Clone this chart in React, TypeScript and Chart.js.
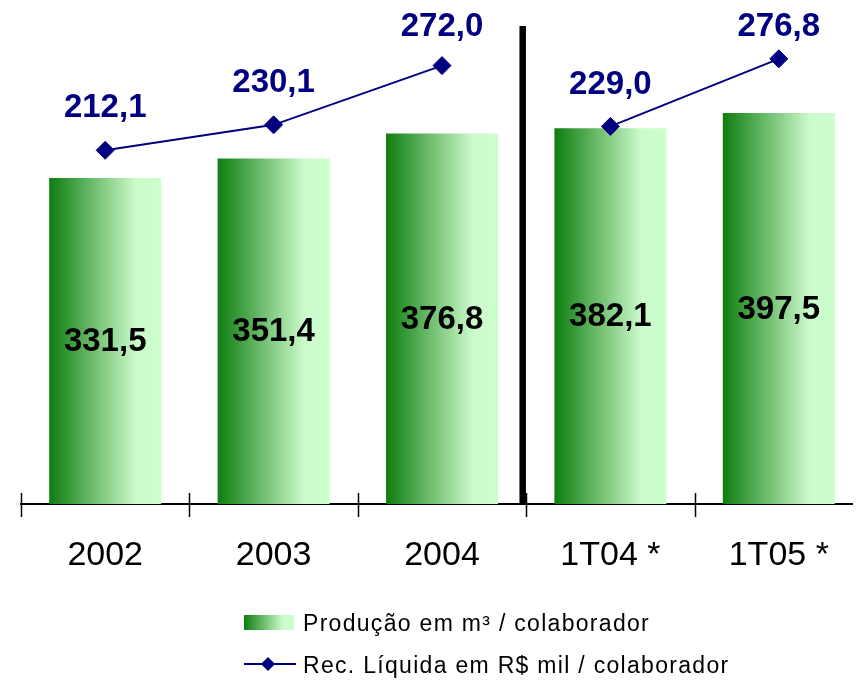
import React, { useEffect, useRef } from "react";
import { Chart, registerables } from "chart.js";

Chart.register(...registerables);

const categories = ["2002", "2003", "2004", "1T04 *", "1T05 *"];
const producao = [331.5, 351.4, 376.8, 382.1, 397.5];
const receita = [212.1, 230.1, 272.0, 229.0, 276.8];
const labelProducao = "Produção em m³ / colaborador";
const labelReceita = "Rec. Líquida em R$ mil / colaborador";
const separatorAfterIndex = 2;

const NAVY = "#000080";
const FONT = "'Liberation Sans', Arial, sans-serif";
const BAR_PCT = 0.665;

function greenGradient(ctx: CanvasRenderingContext2D, x0: number, x1: number) {
  const g = ctx.createLinearGradient(x0, 0, x1, 0);
  g.addColorStop(0, "#0e7d0e");
  g.addColorStop(0.78, "#ccfbcc");
  g.addColorStop(1, "#ccffcc");
  return g;
}

const fmt = (v: number) => v.toFixed(1).replace(".", ",");

function spacedText(ctx: any, text: string, x: number, y: number) {
  if ("letterSpacing" in ctx) {
    ctx.letterSpacing = "1.3px";
    ctx.fillText(text, x, y);
    ctx.letterSpacing = "0px";
  } else {
    ctx.save();
    ctx.translate(x, y);
    ctx.scale(1.12, 1);
    ctx.fillText(text, 0, 0);
    ctx.restore();
  }
}

const overlayPlugin = {
  id: "overlay",
  afterDatasetsDraw(chart: any) {
    const ctx: CanvasRenderingContext2D = chart.ctx;
    const area = chart.chartArea;
    const xs = chart.scales.x;
    const n = categories.length;
    const cw = xs.width / n;
    ctx.save();
    // separator line
    const bx = xs.left + cw * (separatorAfterIndex + 1) - 3.5;
    ctx.strokeStyle = "#000";
    ctx.lineWidth = 6.5;
    ctx.beginPath();
    ctx.moveTo(bx, area.top);
    ctx.lineTo(bx, area.bottom);
    ctx.stroke();
    // tick marks crossing the axis
    ctx.lineWidth = 1.5;
    for (let i = 0; i <= n; i++) {
      const x = Math.round(xs.left + cw * i) + 0.5;
      ctx.beginPath();
      ctx.moveTo(x, area.bottom - 11);
      ctx.lineTo(x, area.bottom + 13);
      ctx.stroke();
    }
    // bar labels
    const barMeta = chart.getDatasetMeta(1);
    ctx.font = `bold 33px ${FONT}`;
    ctx.textAlign = "center";
    ctx.textBaseline = "middle";
    ctx.fillStyle = "#000";
    barMeta.data.forEach((el: any, i: number) => {
      ctx.fillText(fmt(producao[i]), el.x, (el.y + el.base) / 2 + 1);
    });
    // line labels
    const lineMeta = chart.getDatasetMeta(0);
    ctx.fillStyle = NAVY;
    lineMeta.data.forEach((el: any, i: number) => {
      const y = Math.max(el.y - 42, area.top + 1);
      ctx.fillText(fmt(receita[i]), el.x, y);
    });
    ctx.restore();
  },
  afterDraw(chart: any) {
    const ctx: CanvasRenderingContext2D = chart.ctx;
    ctx.save();
    // legend row 1
    ctx.fillStyle = greenGradient(ctx, 236, 286);
    ctx.fillRect(236, 607, 50, 15);
    // legend row 2
    ctx.strokeStyle = NAVY;
    ctx.lineWidth = 2;
    ctx.beginPath();
    ctx.moveTo(236, 656);
    ctx.lineTo(288, 656);
    ctx.stroke();
    ctx.fillStyle = NAVY;
    ctx.beginPath();
    ctx.moveTo(260 - 7, 656);
    ctx.lineTo(260, 649);
    ctx.lineTo(260 + 7, 656);
    ctx.lineTo(260, 663);
    ctx.closePath();
    ctx.fill();
    // legend texts
    ctx.fillStyle = "#000";
    ctx.font = `23px ${FONT}`;
    ctx.textAlign = "left";
    ctx.textBaseline = "alphabetic";
    spacedText(ctx, labelProducao, 295, 623);
    spacedText(ctx, labelReceita, 295, 665);
    ctx.restore();
  },
};

export default function App() {
  const ref = useRef<HTMLCanvasElement>(null);
  useEffect(() => {
    if (!ref.current) return;
    const chart = new Chart(ref.current, {
      type: "bar",
      data: {
        labels: categories,
        datasets: [
          {
            type: "line",
            label: labelReceita,
            data: receita,
            yAxisID: "y2",
            borderColor: NAVY,
            borderWidth: 2,
            backgroundColor: NAVY,
            pointStyle: "rectRot",
            pointRadius: 9,
            pointBorderWidth: 1,
            pointBorderColor: NAVY,
            pointBackgroundColor: NAVY,
            tension: 0,
            order: 0,
            segment: {
              borderColor: (s: any) =>
                s.p0DataIndex === separatorAfterIndex ? "rgba(0,0,0,0)" : undefined,
            },
          } as any,
          {
            type: "bar",
            label: labelProducao,
            data: producao,
            yAxisID: "y",
            barPercentage: BAR_PCT,
            categoryPercentage: 1,
            order: 1,
            backgroundColor: (c: any) => {
              const ch = c.chart;
              const xs = ch.scales && ch.scales.x;
              if (!xs || c.dataIndex === undefined) return "#8c8";
              const cw = xs.width / categories.length;
              const half = (cw * BAR_PCT) / 2;
              const cx = xs.getPixelForValue(c.dataIndex);
              if (!isFinite(cx) || !isFinite(half) || half <= 0) return "#8c8";
              return greenGradient(ch.ctx, cx - half, cx + half);
            },
          },
        ],
      },
      options: {
        responsive: false,
        animation: false,
        events: [],
        layout: { padding: { top: 18, left: 13, right: 15, bottom: 0 } },
        plugins: {
          legend: { display: false },
          tooltip: { enabled: false },
        },
        scales: {
          x: {
            offset: true,
            grid: { display: false, drawTicks: false, tickLength: 0 },
            border: { display: true, color: "#000", width: 2 },
            ticks: {
              color: "#000",
              font: { family: FONT, size: 34 },
              padding: 31,
              maxRotation: 0,
              autoSkip: false,
            },
            afterFit: (scale: any) => {
              scale.height = 176;
            },
          },
          y: {
            display: false,
            min: 0,
            max: 486,
          },
          y2: {
            display: false,
            position: "right",
            min: -38,
            max: 300,
          },
        },
      },
      plugins: [overlayPlugin],
    });
    chart.update();
    return () => chart.destroy();
  }, []);
  return (
    <div style={{ width: 853, height: 672, overflow: "hidden" }}>
      <canvas ref={ref} width={870} height={672} style={{ display: "block" }} />
    </div>
  );
}
